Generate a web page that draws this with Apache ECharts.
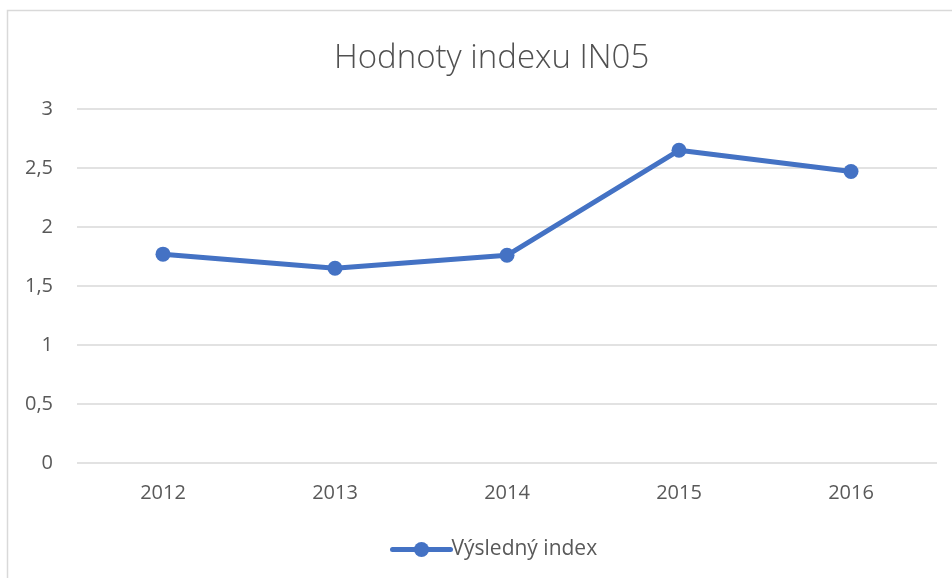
<!DOCTYPE html>
<html>
<head>
<meta charset="utf-8">
<script src="https://cdn.jsdelivr.net/npm/echarts@6/dist/echarts.min.js"></script>
<style>html,body{margin:0;padding:0;background:#fff;}#c{width:952px;height:578px;}</style>
</head>
<body>
<div id="c"></div>
<script>
const categories = ['2012', '2013', '2014', '2015', '2016'];
const seriesName = 'Výsledný index';
const values = [1.77, 1.65, 1.76, 2.65, 2.47];
const yTicks = { min: 0, max: 3, interval: 0.5 };

const chart = echarts.init(document.getElementById('c'));
chart.setOption({
  backgroundColor: '#fff',
  animation: false,
  textStyle: { fontFamily: 'Open Sans' },
  graphic: [{
    type: 'rect',
    shape: { x: 7.5, y: 10.5, width: 1000, height: 1000 },
    style: { fill: 'none', stroke: '#d9d9d9', lineWidth: 1.5 },
    silent: true
  }],
  title: {
    text: 'Hodnoty indexu IN05',
    left: 329,
    top: 37,
    textStyle: { fontFamily: 'Open Sans', fontWeight: 300, fontSize: 33, color: '#505050' }
  },
  grid: { left: 77, right: 15, top: 109, bottom: 115, containLabel: false },
  legend: {
    data: [seriesName],
    left: 385,
    top: 534,
    itemWidth: 58,
    itemHeight: 19,
    itemGap: 4,
    lineStyle: { width: 5, cap: 'round' },
    textStyle: { fontFamily: 'Open Sans', fontSize: 21, color: '#595959', padding: [0, 0, 0, -4] }
  },
  xAxis: {
    type: 'category',
    data: categories,
    boundaryGap: true,
    axisLine: { show: false },
    axisTick: { show: false },
    axisLabel: { color: '#595959', fontSize: 20, margin: 20, fontFamily: 'Open Sans' }
  },
  yAxis: {
    type: 'value',
    min: yTicks.min,
    max: yTicks.max,
    interval: yTicks.interval,
    axisLine: { show: false },
    axisTick: { show: false },
    axisLabel: {
      color: '#595959', fontSize: 20, margin: 24, fontFamily: 'Open Sans',
      formatter: v => String(v).replace('.', ',')
    },
    splitLine: { lineStyle: { color: '#d9d9d9', width: 1.5 } }
  },
  series: [{
    name: seriesName,
    type: 'line',
    data: values,
    symbol: 'circle',
    symbolSize: 15,
    lineStyle: { color: '#4472c4', width: 5, cap: 'round' },
    itemStyle: { color: '#4472c4' }
  }]
});
</script>
</body>
</html>
